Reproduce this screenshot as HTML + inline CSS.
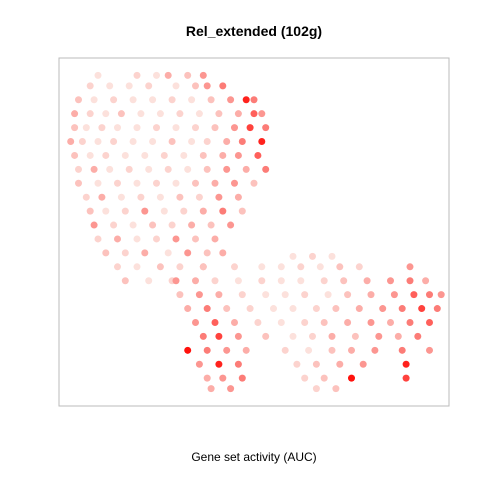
<!DOCTYPE html>
<html><head><meta charset="utf-8">
<style>
html,body{margin:0;padding:0;background:#fff;}
svg{display:block;font-family:"Liberation Sans",sans-serif;}
</style></head>
<body>
<svg id="chart" width="480" height="480" viewBox="0 0 480 480">
<text x="254" y="36" text-anchor="middle" font-size="14" font-weight="bold">Rel_extended (102g)</text>
<rect x="59" y="58" width="390" height="348" fill="none" stroke="#bbb" stroke-width="1"/>
<g id="pts"></g>
<text x="254" y="461" text-anchor="middle" font-size="12">Gene set activity (AUC)</text>
</svg>
<script>
const rowY = [95,92,88,84,80,76,72,68,64,60,56,52,48,44,40,36,
              43,40,36,32,28,24,20,16,12,8,5];
const rowXs = [
 [10,20,25,28,33,37],
 [8,13,18,23,30,35,38,42],
 [5,9,14,19,24,29,34,39,44,48,50],
 [4,8,12,16,21,26,31,36,41,46,50,52],
 [4,7,11,15,20,25,30,35,40,45,49,53],
 [3,6,10,14,19,24,29,34,38,43,47,52],
 [4,8,12,17,22,27,32,37,42,46,51],
 [5,9,13,18,23,28,33,38,43,48,53],
 [5,10,15,20,25,30,35,40,45,50],
 [7,11,16,21,26,31,36,41,46],
 [8,12,17,22,27,32,37,42,47],
 [9,14,19,24,29,34,39,44],
 [10,15,20,25,30,35,40],
 [12,17,22,28,33,38,42],
 [15,20,26,31,37],
 [17,23,29],
 [60,65,70],
 [37,45,52,57,62,67,72,77,90],
 [30,35,40,46,52,57,62,68,73,79,85,90,94],
 [31,36,41,47,53,58,63,69,74,80,86,91,95,98],
 [33,38,43,49,55,60,66,71,77,83,88,93,97],
 [35,40,45,51,57,63,68,74,80,85,90,95],
 [37,41,46,53,60,65,70,76,82,87,92],
 [33,38,43,48,58,64,70,75,81,88,95],
 [36,41,46,61,66,72,78,89],
 [38,42,47,63,68,75,89],
 [39,44,66,71]
];
const rowAuc = [
 [.1,.2,.1,.4,.3,.5],
 [.2,.1,.1,.2,.1,.3,.5,.6],
 [.3,.1,.2,.1,.1,.2,.1,.3,.5,.9,.6],
 [.4,.2,.1,.3,.1,.1,.2,.1,.3,.4,.7,.5],
 [.3,.1,.2,.1,.1,.2,.1,.2,.3,.5,.8,.6],
 [.4,.2,.1,.2,.1,.1,.3,.1,.2,.4,.6,.9],
 [.3,.1,.2,.1,.1,.2,.1,.3,.4,.5,.7],
 [.2,.4,.1,.2,.1,.2,.1,.3,.5,.4,.6],
 [.3,.1,.2,.1,.2,.1,.3,.4,.5,.3],
 [.2,.4,.1,.2,.1,.3,.2,.5,.4],
 [.3,.1,.2,.5,.1,.2,.4,.6,.3],
 [.5,.2,.1,.3,.2,.4,.3,.5],
 [.2,.4,.1,.2,.5,.3,.4],
 [.3,.2,.4,.1,.5,.3,.4],
 [.2,.1,.3,.2,.4],
 [.3,.1,.2],
 [.1,.2,.1],
 [.3,.2,.1,.1,.2,.1,.3,.2,.5],
 [.5,.4,.2,.1,.2,.1,.1,.2,.3,.4,.5,.6,.4],
 [.3,.5,.4,.2,.1,.1,.2,.1,.3,.4,.5,.7,.6,.5],
 [.4,.6,.3,.2,.1,.1,.2,.3,.4,.5,.6,.8,.6],
 [.5,.7,.4,.2,.1,.2,.3,.4,.5,.4,.6,.7],
 [.6,.8,.5,.3,.1,.2,.4,.3,.5,.4,.6],
 [.95,.6,.5,.4,.2,.1,.3,.4,.5,.6,.5],
 [.5,.9,.6,.2,.3,.4,.5,.9],
 [.4,.5,.6,.2,.3,.95,.8],
 [.4,.5,.2,.3]
];
const xScale = v => 59 + v * 3.9;
const yScale = v => 406 - v * 3.48;
function color(v){
  const g = Math.round(232 - 232 * Math.pow(v, 1.5));
  return `rgb(${v > 0.6 ? 255 : 252},${g},${Math.max(0, g - 5)})`;
}
const layer = document.getElementById('pts');
const NS = 'http://www.w3.org/2000/svg';
rowY.forEach((y, i) => {
  rowXs[i].forEach((x, j) => {
    const c = document.createElementNS(NS, 'circle');
    c.setAttribute('cx', xScale(x));
    c.setAttribute('cy', yScale(y));
    c.setAttribute('r', 3.5);
    c.setAttribute('fill', color(rowAuc[i][j]));
    
    
    layer.appendChild(c);
  });
});
</script>
</body></html>
